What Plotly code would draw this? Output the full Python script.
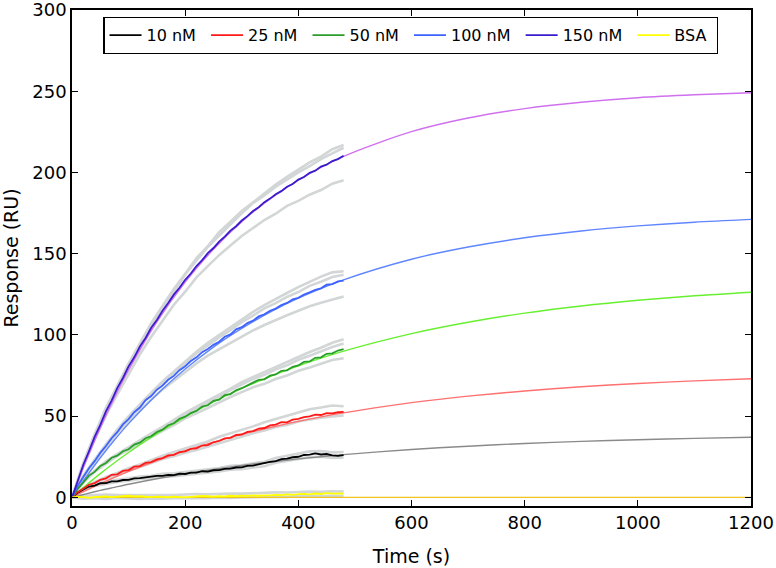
import plotly.graph_objects as go

# ---------------- data ----------------
LABELS = ["10 nM", "25 nM", "50 nM", "100 nM", "150 nM", "BSA"]

# measured sensorgrams, every 10 s from 0 to 480 s
T_DATA = list(range(0, 481, 10))
D10 = [0, 2.8, 4.8, 6.7, 7.3, 8.7, 8.8, 9.8, 9.8, 10.7, 10.8, 11.7, 11.8, 12.3, 12.4, 13.2, 13.3,
       13.8, 13.7, 14.6, 14.4, 15.2, 15.3, 16.1, 15.9, 16.7, 16.8, 17.6, 17.7, 18.4, 18.5, 19.4,
       19.6, 20.4, 20.8, 21.9, 22.3, 23.6, 23.8, 24.7, 25.0, 26.1, 26.3, 27.1, 26.4, 26.7, 25.8,
       25.6, 26.0]
D25 = [0, 3.2, 5.3, 7.8, 8.8, 10.8, 11.7, 13.9, 14.2, 16.3, 16.8, 18.9, 19.3, 21.3, 21.7, 23.4,
       24.2, 25.9, 26.2, 27.9, 28.3, 29.9, 30.2, 31.9, 32.2, 33.9, 34.7, 36.3, 36.7, 38.4, 38.7,
       40.3, 40.8, 42.4, 42.7, 44.3, 44.8, 46.3, 46.2, 47.9, 48.3, 49.4, 49.8, 50.9, 50.7, 51.9,
       51.7, 52.4, 52.6]
D50 = [0, 5.3, 9.2, 13.4, 15.7, 19.3, 21.2, 24.4, 25.7, 28.4, 29.6, 32.5, 33.7, 36.4, 37.6, 40.3,
       41.7, 44.4, 45.6, 48.4, 49.7, 51.9, 53.2, 55.9, 56.7, 59.4, 60.2, 62.9, 63.6, 65.9, 67.2,
       68.9, 70.2, 72.4, 72.7, 74.9, 75.7, 77.9, 78.2, 80.4, 81.2, 83.4, 83.7, 85.9, 86.2, 88.4,
       88.7, 90.4, 91.2]
D100 = [0, 7.1, 12.6, 17.9, 22.3, 27.4, 31.6, 36.4, 40.1, 44.9, 48.2, 52.4, 55.3, 59.8, 62.4,
        66.3, 68.8, 72.4, 74.8, 78.3, 80.7, 83.9, 86.2, 89.4, 91.3, 93.9, 95.8, 98.9, 100.3, 103.4,
        104.8, 107.3, 108.8, 111.4, 112.7, 114.9, 116.2, 118.4, 119.7, 121.9, 122.8, 124.9, 126.2,
        127.8, 128.7, 130.9, 131.3, 132.9, 133.4]
D150 = [0, 10.6, 20.1, 28.4, 37.2, 44.6, 52.9, 59.6, 67.3, 73.5, 80.6, 86.2, 92.9, 98.1, 104.4,
        109.2, 114.9, 119.6, 124.8, 129.0, 133.9, 137.8, 142.4, 146.0, 150.3, 153.5, 157.4, 160.5,
        164.2, 166.9, 170.4, 173.1, 176.3, 178.6, 181.7, 183.9, 186.6, 188.5, 191.2, 192.9, 195.6,
        197.2, 199.8, 201.1, 203.6, 204.8, 207.0, 208.2, 210.3]
DBSA = [0, 0.5, 0.2, -0.3, 0.1, 0.4, 0.6, 0.2, 0.5, 0.9, 1.0, 0.6, 0.8, 0.4, 0.2, 0.5, 0.3, 0.1,
        0.4, 0.2, 0.0, 0.3, 0.6, 0.9, 0.7, 0.5, 0.8, 0.6, 1.0, 0.8, 1.1, 0.9, 1.2, 1.0, 1.3, 1.2,
        1.6, 1.4, 1.8, 1.5, 2.0, 2.2, 1.9, 2.4, 2.1, 2.6, 2.3, 2.5, 2.4]

# replicate injections (grey), every 20 s from 0 to 480 s
T_REP = list(range(0, 481, 20))
R10 = [
    [0, 5.4, 8.1, 9.5, 10.8, 11.7, 12.9, 13.3, 14.5, 14.9, 15.6, 16.5, 17.2, 18.1, 19.4, 19.7,
     21.0, 21.9, 24.2, 25.6, 26.9, 28.3, 28.5, 27.7, 27.9],
    [0, 4.5, 7.1, 8.4, 9.5, 10.2, 11.4, 11.7, 12.8, 13.1, 13.7, 14.5, 15.1, 15.9, 17.0, 17.3,
     18.4, 19.2, 21.3, 22.5, 23.6, 24.8, 25.0, 24.3, 24.5],
]
R25 = [
    [0, 5.8, 9.3, 12.6, 15.0, 17.9, 20.3, 23.2, 25.6, 28.0, 30.0, 32.4, 34.4, 37.3, 39.3, 41.7,
     43.7, 46.2, 48.2, 50.3, 52.4, 54.3, 55.3, 56.6, 56.1],
    [0, 5.2, 8.7, 11.4, 14.0, 16.2, 18.8, 21.0, 23.6, 25.3, 27.5, 29.2, 31.3, 33.5, 35.6, 37.3,
     39.5, 41.2, 43.3, 44.5, 46.7, 47.9, 49.1, 49.8, 50.5],
]
R50 = [
    [0, 9.8, 16.3, 22.2, 26.6, 31.0, 35.0, 39.4, 43.4, 47.9, 52.0, 55.9, 59.5, 63.4, 67.0, 71.0,
     74.1, 77.1, 80.3, 83.3, 86.4, 89.5, 92.1, 95.2, 97.3],
    [0, 9.5, 16.3, 21.7, 26.5, 30.3, 34.7, 38.6, 43.0, 46.9, 51.3, 54.8, 58.7, 62.1, 66.0, 69.5,
     72.9, 75.4, 78.8, 81.3, 84.7, 87.2, 90.1, 92.6, 94.7],
    [0, 9.2, 15.8, 20.9, 25.5, 29.2, 33.2, 36.9, 40.9, 44.5, 48.6, 51.7, 55.2, 58.3, 61.8, 64.8,
     67.8, 69.9, 72.9, 75.0, 77.9, 80.0, 82.5, 84.6, 85.6],
]
R100 = [
    [0, 13.3, 22.7, 32.5, 41.0, 49.4, 56.4, 63.8, 70.3, 76.7, 82.7, 88.6, 93.6, 98.5, 103.0,
     107.9, 111.9, 116.3, 119.6, 123.4, 126.4, 130.2, 132.7, 135.6, 137.1],
    [0, 13.4, 23.1, 32.7, 41.7, 49.8, 57.3, 64.4, 71.4, 77.5, 84.1, 89.7, 95.2, 99.9, 104.9,
     109.6, 114.2, 118.3, 122.3, 125.8, 129.4, 132.9, 135.9, 138.5, 139.2],
    [0, 12.6, 22.1, 31.1, 39.5, 46.9, 53.8, 60.2, 66.5, 71.9, 77.6, 82.5, 87.2, 91.0, 95.3,
     99.1, 102.8, 106.1, 109.3, 112.1, 114.9, 117.6, 119.8, 121.6, 123.6],
]
R150 = [
    [0, 20.9, 38.2, 53.8, 68.1, 80.8, 94.2, 105.8, 117.1, 126.8, 137.2, 145.8, 154.1, 161.2,
     168.1, 174.8, 181.2, 185.9, 191.2, 195.8, 200.1, 203.9, 208.2, 211.8, 215.2],
    [0, 21.2, 38.8, 55.2, 68.7, 82.3, 94.8, 107.3, 117.8, 128.3, 137.6, 147.3, 154.6, 163.3,
     169.7, 176.3, 181.6, 187.3, 192.6, 197.3, 201.8, 206.2, 209.8, 214.3, 216.9],
    [0, 19.4, 35.6, 50.4, 63.4, 76.2, 88.1, 98.9, 108.9, 118.6, 126.6, 135.4, 142.3, 149.1,
     155.1, 160.9, 165.8, 170.7, 174.6, 179.4, 182.5, 186.3, 189.2, 193.1, 195.2],
]
RBSA = [
    [0, 1.2, 1.5, 1.8, 1.4, 1.3, 1.6, 1.1, 1.4, 1.5, 1.8, 2.1, 1.9, 2.2, 2.4, 2.3, 2.6, 2.8, 3.1,
     3.0, 3.4, 3.6, 3.5, 3.8, 3.6],
    [0, -0.8, -0.5, -0.9, -0.4, -0.7, -1.0, -0.6, -0.8, -0.5, -0.6, -0.3, -0.5, -0.2, -0.4, 0.0,
     -0.1, 0.2, 0.4, 0.3, 0.7, 0.9, 0.6, 1.0, 0.8],
]

# fitted curves, 0 to 1200 s
T_FIT = [0, 10, 25, 50, 75, 100, 150, 200, 250, 300, 350, 400, 480, 600, 700, 800, 900, 1000,
         1100, 1200]
F10 = [0, 0.9, 2.2, 4.3, 6.2, 8.1, 11.5, 14.5, 17.2, 19.6, 21.8, 23.7, 26.3, 29.5, 31.5, 33.2,
       34.5, 35.5, 36.3, 37.0]
F25 = [0, 1.8, 4.3, 8.4, 12.3, 16.0, 22.7, 28.7, 34.0, 38.8, 43.0, 46.8, 52.0, 58.3, 62.3, 65.5,
       68.1, 70.1, 71.7, 73.0]
F50 = [0, 3.1, 7.5, 14.6, 21.3, 27.6, 39.2, 49.6, 58.8, 67.1, 74.4, 81.0, 90.0, 100.8, 107.8,
       113.4, 117.8, 121.3, 124.1, 126.3]
F100 = [0, 5.2, 12.6, 24.4, 35.3, 45.4, 63.4, 79.0, 92.5, 104.0, 114.0, 122.6, 133.9, 146.6,
        154.1, 159.8, 164.0, 167.1, 169.4, 171.1]
F150 = [0, 9.2, 22.5, 42.9, 61.5, 78.4, 108.0, 132.5, 152.8, 169.7, 183.7, 195.3, 209.9, 225.1,
        233.5, 239.3, 243.2, 246.0, 247.8, 249.1]
FBSA = [0, 0, 0, 0, 0, 0, 0, 0, 0, 0, 0, 0, 0, 0, 0, 0, 0, 0, 0, 0]

X_TICKS = [0, 200, 400, 600, 800, 1000, 1200]
Y_TICKS = [0, 50, 100, 150, 200, 250, 300]

# ---------------- styling ----------------
DATA_COLORS = ["#000000", "#ff1a1a", "#2a9e2a", "#3d62ff", "#3a1ccc", "#ffff00"]
FIT_COLORS = ["#8a8a8a", "#ff7070", "#66f030", "#5f86ff", "#d070ee", "#f0c419"]
REP_COLOR = "#d2d6d6"
FONT = "DejaVu Sans"

data_sets = [D10, D25, D50, D100, D150, DBSA]
rep_sets = [R10, R25, R50, R100, R150, RBSA]
fit_sets = [F10, F25, F50, F100, F150, FBSA]

fig = go.Figure()

for reps in rep_sets:
    for r in reps:
        fig.add_trace(go.Scatter(x=T_REP, y=r, mode="lines", showlegend=False,
                                 hoverinfo="skip",
                                 line=dict(color=REP_COLOR, width=2.6)))

for fit, c in zip(fit_sets, FIT_COLORS):
    fig.add_trace(go.Scatter(x=T_FIT, y=fit, mode="lines", showlegend=False,
                             line=dict(color=c, width=1.4, shape="spline", smoothing=0.8)))

for i, (lab, d, c) in enumerate(zip(LABELS, data_sets, DATA_COLORS)):
    fig.add_trace(go.Scatter(x=T_DATA, y=d, mode="lines", name=lab + "\u00a0",
                             legendrank=i + 1, line=dict(color=c, width=1.8)))

axis_common = dict(showline=True, linecolor="black", linewidth=1.6, mirror="ticks",
                   ticks="inside", ticklen=6, tickwidth=1.2, tickcolor="black",
                   showgrid=False, zeroline=False, automargin=False,
                   ticklabeloverflow="allow",
                   tickfont=dict(family=FONT, size=18, color="black"))

fig.update_layout(
    width=776, height=568,
    margin=dict(l=72, r=25, t=10, b=62, autoexpand=False),
    paper_bgcolor="white", plot_bgcolor="white",
    font=dict(family=FONT, color="black"),
    xaxis=dict(range=[0, 1200], tickvals=X_TICKS,
               title=dict(text="Time (s)", font=dict(family=FONT, size=19), standoff=17),
               **axis_common),
    yaxis=dict(range=[-5.3, 300], tickvals=Y_TICKS,
               title=dict(text="Response (RU)", font=dict(family=FONT, size=19), standoff=12),
               **axis_common),
    legend=dict(orientation="h", x=0.046, y=0.986, xanchor="left", yanchor="top",
                bgcolor="white", bordercolor="black", borderwidth=1.3,
                font=dict(family=FONT, size=16, color="black"), itemwidth=32,
                traceorder="normal"),
)

fig.write_html("out.html", config={"displayModeBar": False},
               post_script="document.body.style.margin='0';document.body.style.padding='0';")
